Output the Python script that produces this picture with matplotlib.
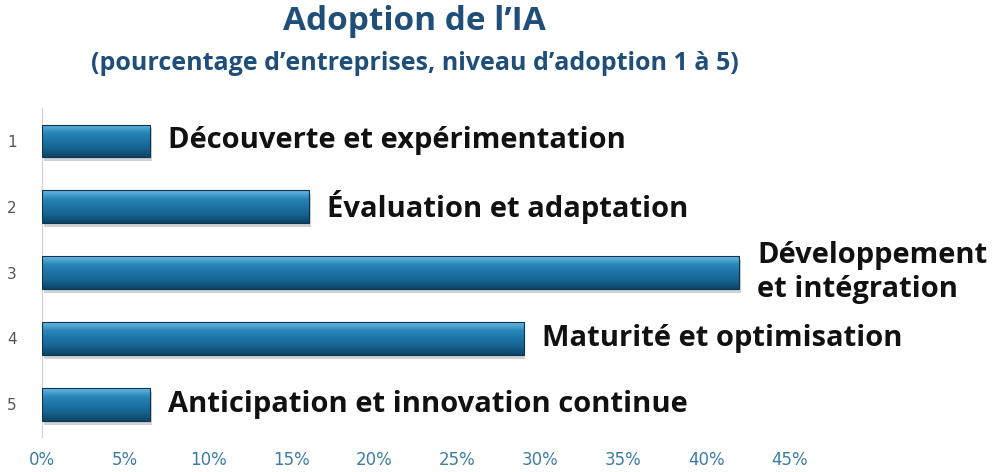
import numpy as np
import matplotlib.pyplot as plt
from matplotlib.colors import LinearSegmentedColormap
from matplotlib.patches import Rectangle

# --- DATA ---------------------------------------------------------------
levels = ["1", "2", "3", "4", "5"]
shares = [0.065, 0.161, 0.420, 0.290, 0.065]
names = ["Découverte et expérimentation",
         "Évaluation et adaptation",
         "Développement\net intégration",
         "Maturité et optimisation",
         "Anticipation et innovation continue"]
xticks = [0, 0.05, 0.10, 0.15, 0.20, 0.25, 0.30, 0.35, 0.40, 0.45]
# -----------------------------------------------------------------------

title_col = "#1f4e79"
tick_col = "#3c7da6"

fig = plt.figure(figsize=(9.99, 4.72), dpi=100)
ax = fig.add_axes([0.042, 0.074, 0.748, 0.697])

y = np.arange(len(levels))
bars = ax.barh(y, shares, height=0.5, color="#1b6a9b", zorder=2)

# vertical gradient + shadow to mimic the bevelled bars
grad = LinearSegmentedColormap.from_list(
    "bar", ["#0d4468", "#16638f", "#1d73a5", "#2a88ba", "#6ab8e2"])
col = np.linspace(0, 1, 64).reshape(-1, 1)
for b in bars:
    x0, y0 = b.get_x(), b.get_y()
    w, h = b.get_width(), b.get_height()
    sh = Rectangle((x0 + 0.001, y0 + 0.06), w, h, color="#000000",
                   alpha=0.18, zorder=1, lw=0)
    ax.add_patch(sh)
    im = ax.imshow(col, cmap=grad, aspect="auto", origin="lower",
                   extent=(x0, x0 + w, y0 + h, y0), zorder=3)
    im.set_clip_path(b)
    ax.add_patch(Rectangle((x0, y0), w, h, fill=False,
                           ec="#0a3552", lw=0.8, zorder=4))

for yi, v, name in zip(y, shares, names):
    ax.annotate(name, (v, yi), xytext=(13, 0), textcoords="offset points",
                va="center", ha="left", fontsize=21, fontweight="bold",
                family="Open Sans", color="#111111", annotation_clip=False,
                linespacing=1.25)

ax.set_xlim(0, 0.45)
ax.set_ylim(len(levels) - 0.5, -0.5)
ax.set_yticks(y)
ax.set_yticklabels(levels)
ax.set_xticks(xticks)
ax.set_xticklabels([f"{int(round(t * 100))}%" for t in xticks])
ax.tick_params(axis="y", length=0, pad=18, labelsize=11, labelcolor="#555555")
ax.tick_params(axis="x", length=0, pad=10, labelsize=12, labelcolor=tick_col)
for s in ["top", "right", "bottom"]:
    ax.spines[s].set_visible(False)
ax.spines["left"].set_color("#d0d0d0")
ax.set_facecolor("none")

fig.text(0.415, 0.955, "Adoption de l\u2019IA", ha="center", va="center",
         fontsize=24, fontweight="bold", color=title_col, family="Open Sans")
fig.text(0.415, 0.865, "(pourcentage d\u2019entreprises, niveau d\u2019adoption 1 à 5)",
         ha="center", va="center", fontsize=18, fontweight="bold",
         color=title_col, family="Open Sans")

fig.savefig("out.png", dpi=100)
